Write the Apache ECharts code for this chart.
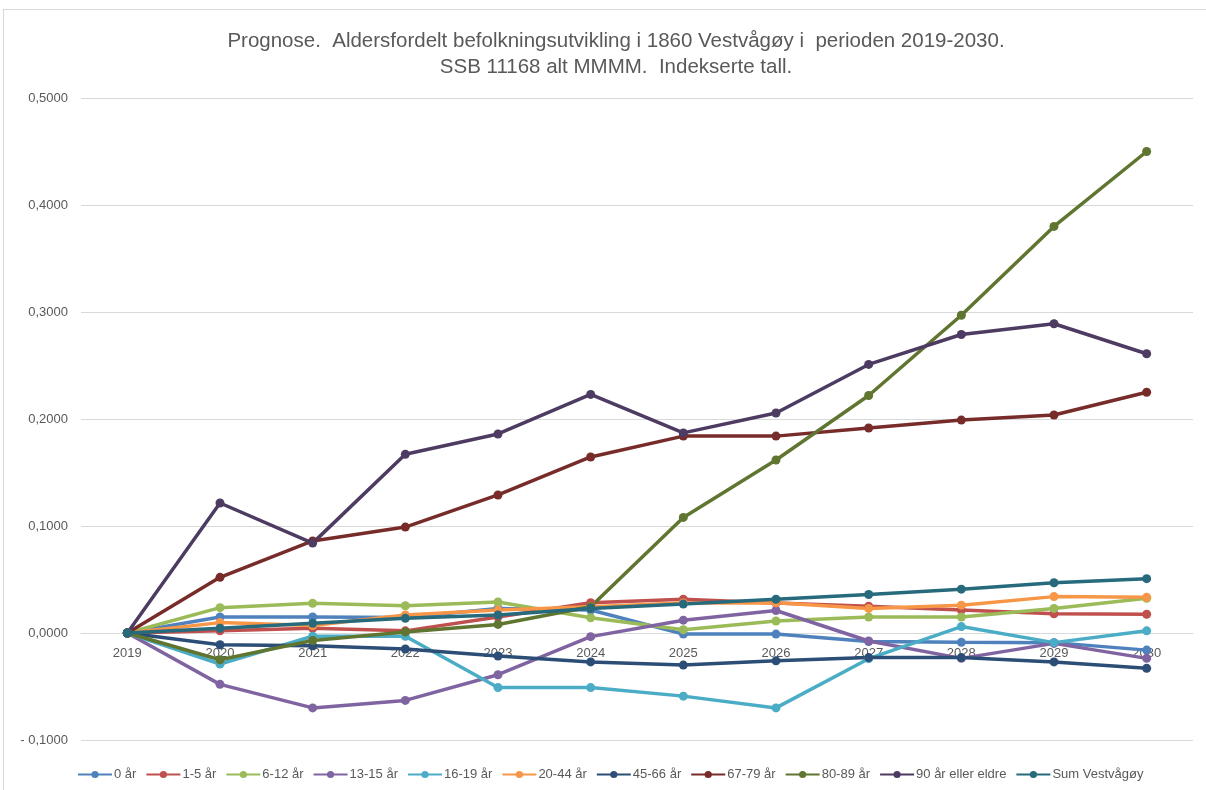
<!DOCTYPE html>
<html lang="no">
<head>
    <meta charset="UTF-8">
    <title>Prognose Vestvågøy</title>
    <style>
        body{margin:0;background:#fff;}
        #frame{position:absolute;left:3px;top:9px;width:1220px;height:800px;border:1px solid #d9d9d9;}
        #main{position:absolute;left:0;top:0;width:1206px;height:790px;}
    </style>
    <script type="text/javascript" src="https://cdn.jsdelivr.net/npm/echarts@6/dist/echarts.min.js"></script>
</head>
<body>
    <div id="frame"></div>
    <div id="main"></div>
    <script>
        var years = ['2019','2020','2021','2022','2023','2024','2025','2026','2027','2028','2029','2030']
        var yTicks = {min: -0.1, max: 0.5, interval: 0.1}

        var ar0    = [0, 0.015, 0.015, 0.0145, 0.023, 0.0215, -0.001, -0.001, -0.008, -0.0087, -0.009, -0.016]
        var ar1_5  = [0, 0.002, 0.0044, 0.002, 0.015, 0.0283, 0.0315, 0.028, 0.025, 0.0215, 0.018, 0.0175]
        var ar6_12 = [0, 0.0237, 0.0277, 0.0255, 0.029, 0.0143, 0.003, 0.0112, 0.015, 0.015, 0.023, 0.0324]
        var ar13_15 = [0, -0.048, -0.070, -0.063, -0.039, -0.0034, 0.012, 0.021, -0.0075, -0.0237, -0.0097, -0.0237]
        var ar16_19 = [0, -0.029, -0.003, -0.003, -0.051, -0.051, -0.059, -0.070, -0.024, 0.006, -0.009, 0.002]
        var ar20_44 = [0, 0.0097, 0.007, 0.0168, 0.0215, 0.0246, 0.028, 0.0283, 0.023, 0.026, 0.034, 0.0333]
        var ar45_66 = [0, -0.011, -0.012, -0.015, -0.0215, -0.027, -0.030, -0.026, -0.023, -0.023, -0.027, -0.033]
        var ar67_79 = [0, 0.052, 0.086, 0.099, 0.129, 0.1645, 0.184, 0.184, 0.1916, 0.199, 0.2037, 0.225]
        var ar80_89 = [0, -0.025, -0.007, 0.001, 0.008, 0.0246, 0.108, 0.1617, 0.222, 0.297, 0.380, 0.450]
        var ar90 = [0, 0.1215, 0.084, 0.167, 0.186, 0.223, 0.187, 0.2056, 0.251, 0.279, 0.289, 0.261]
        var sumVest = [0, 0.0044, 0.009, 0.0137, 0.0168, 0.023, 0.027, 0.0315, 0.036, 0.041, 0.047, 0.0508]

        var names = ['0 år','1-5 år','6-12 år','13-15 år','16-19 år','20-44 år','45-66 år','67-79 år','80-89 år','90 år eller eldre','Sum Vestvågøy']
        var values = [ar0, ar1_5, ar6_12, ar13_15, ar16_19, ar20_44, ar45_66, ar67_79, ar80_89, ar90, sumVest]
        var colors = ['#4f81bd','#c0504d','#9bbb59','#8064a2','#4bacc6','#f79646','#2c4d75','#772c2a','#5f7530','#4d3b62','#276a7c']

        var series = names.map(function(n, i){
            return {
                name: n,
                type: 'line',
                data: values[i],
                symbol: 'circle',
                symbolSize: 9,
                lineStyle: {width: 3.5, color: colors[i]},
                itemStyle: {color: colors[i]}
            }
        })

        function fmt(v){
            var s = Math.abs(v).toFixed(4).replace('.', ',')
            return v < -1e-9 ? '- ' + s : s
        }

        var myChart = echarts.init(document.getElementById('main'))
        var option = {
            animation: false,
            textStyle: {fontFamily: 'Liberation Sans'},
            title: {
                text: 'Prognose.  Aldersfordelt befolkningsutvikling i 1860 Vestvågøy i  perioden 2019-2030.\nSSB 11168 alt MMMM.  Indekserte tall.',
                left: 611,
                textAlign: 'center',
                top: 23,
                textStyle: {fontSize: 20.5, fontWeight: 'normal', color: '#595959', lineHeight: 26, fontFamily: 'Liberation Sans'}
            },
            color: colors,
            legend: {
                data: names,
                left: 72,
                top: 763,
                itemWidth: 34,
                itemHeight: 9,
                itemGap: 9,
                textStyle: {fontSize: 13, color: '#595959', padding: [0, 0, 0, -3]}
            },
            grid: {left: 81, right: 13, top: 98, bottom: 50},
            xAxis: {
                type: 'category',
                data: years,
                axisLine: {onZero: false, lineStyle: {color: '#d9d9d9'}},
                axisTick: {show: false},
                axisLabel: {fontSize: 13, color: '#595959', margin: 14}
            },
            yAxis: {
                type: 'value',
                min: yTicks.min,
                max: yTicks.max,
                interval: yTicks.interval,
                axisLine: {show: false},
                axisTick: {show: false},
                splitLine: {lineStyle: {color: '#d9d9d9'}},
                axisLabel: {fontSize: 13, color: '#595959', margin: 13, formatter: fmt}
            },
            series: series
        }
        myChart.setOption(option)
        // move the category axis up to the zero line, as in the original
        var zeroY = myChart.convertToPixel({yAxisIndex: 0}, 0)
        var bottomY = myChart.convertToPixel({yAxisIndex: 0}, yTicks.min)
        myChart.setOption({xAxis: {offset: zeroY - bottomY}})
    </script>
</body>
</html>
